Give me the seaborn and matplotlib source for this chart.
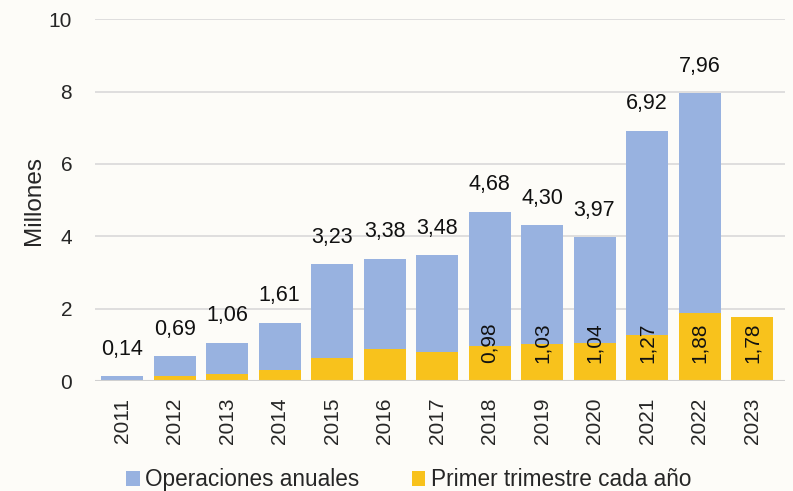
import matplotlib
matplotlib.use("Agg")
import matplotlib.pyplot as plt
import seaborn as sns
import pandas as pd

# Data (millions of operations)
years = ["2011", "2012", "2013", "2014", "2015", "2016", "2017",
         "2018", "2019", "2020", "2021", "2022", "2023"]
annual = [0.14, 0.69, 1.06, 1.61, 3.23, 3.38, 3.48, 4.68, 4.30, 3.97, 6.92, 7.96, None]
first_quarter = [0.01, 0.15, 0.19, 0.30, 0.64, 0.88, 0.81, 0.98, 1.03, 1.04, 1.27, 1.88, 1.78]
labelled_q1 = ["2018", "2019", "2020", "2021", "2022", "2023"]

blue = "#98B2E0"
yellow = "#F8C21C"
bg = "#FDFCF8"

sns.set_theme(style="white")
plt.rcParams["font.family"] = ["Liberation Sans", "DejaVu Sans"]

df = pd.DataFrame({"year": years, "annual": annual, "q1": first_quarter})

fig, ax = plt.subplots(figsize=(7.93, 4.91), dpi=100)
fig.patch.set_facecolor(bg)
ax.set_facecolor(bg)
fig.subplots_adjust(left=0.12, right=0.99, top=0.961, bottom=0.224)

ax.yaxis.grid(True, color="#D9D9D9", linewidth=1.2)
ax.set_axisbelow(True)

sns.barplot(data=df, x="year", y="annual", color=blue, width=0.8,
            saturation=1, linewidth=0, ax=ax, label="Operaciones anuales")
sns.barplot(data=df, x="year", y="q1", color=yellow, width=0.8,
            saturation=1, linewidth=0, ax=ax, label="Primer trimestre cada año")

# value labels above the annual bars
for i, v in enumerate(annual):
    if v is None:
        continue
    ax.text(i, v + 0.45, f"{v:.2f}".replace(".", ","), ha="center", va="bottom",
            fontsize=15.5, color="#111111")

# rotated labels at the base of the first-quarter bars
for i, (y, v) in enumerate(zip(years, first_quarter)):
    if y in labelled_q1:
        ax.text(i, 0.5, f"{v:.2f}".replace(".", ","), ha="center", va="bottom",
                rotation=90, fontsize=15, color="#111111")

ax.set_ylim(0, 10)
ax.set_yticks([0, 2, 4, 6, 8, 10])
ax.set_xlim(-0.514, 12.63)
ax.set_xlabel("")
ax.set_ylabel("Millones", fontsize=17.5, labelpad=3)
ax.tick_params(axis="y", labelsize=15, length=0, pad=16.5)
ax.tick_params(axis="x", labelsize=15, length=0, pad=12, rotation=90)
for s in ax.spines.values():
    s.set_visible(False)
ax.axhline(0, color="#D0D0D0", linewidth=1.5)

ax.legend(loc="upper left", bbox_to_anchor=(126 / 793, 0.046), bbox_transform=fig.transFigure,
          ncol=2, frameon=False, fontsize=16.3, handlelength=0.6, handleheight=0.65,
          handletextpad=0.25, columnspacing=2.3, borderaxespad=0, borderpad=0)

fig.savefig("out.png", dpi=100, facecolor=bg)
